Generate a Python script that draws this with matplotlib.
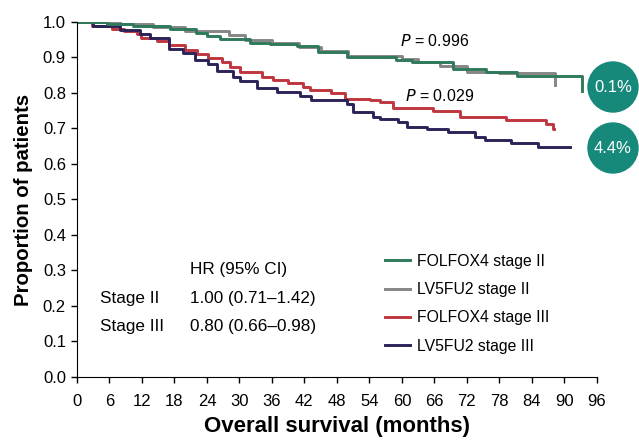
import numpy as np
import matplotlib.pyplot as plt
from matplotlib.patches import Ellipse

plt.rcParams['font.family'] = ['Liberation Sans', 'DejaVu Sans']

# Kaplan-Meier step curves (months, proportion)
folfox_ii_t = [0, 5.5, 10.4, 17.2, 22, 24, 26.4, 32, 35.6, 40.6, 44.5, 49.8, 59, 61.8, 69.4, 75.6, 81.2, 93.2]
folfox_ii_s = [1.0, 0.994, 0.989, 0.979, 0.970, 0.961, 0.953, 0.942, 0.937, 0.931, 0.916, 0.902, 0.893, 0.886, 0.867, 0.858, 0.848, 0.806]

lv5fu2_ii_t = [0, 8, 14, 20, 28, 31, 36, 41, 45, 50, 60, 63, 67, 72, 78, 88.3]
lv5fu2_ii_s = [1.0, 0.995, 0.985, 0.976, 0.962, 0.950, 0.940, 0.930, 0.917, 0.903, 0.895, 0.886, 0.875, 0.860, 0.855, 0.822]

folfox_iii_t = [0, 2.7, 6.4, 8.6, 11, 11.9, 14.7, 16.9, 19.9, 22.1, 24.2, 26.7, 28.2, 30.1, 34.1, 36.2, 39,
                41.8, 43, 47, 49.5, 54.1, 56, 58.4, 65.7, 70.7, 79.3, 86.7, 87.9, 88]
folfox_iii_s = [1.0, 0.989, 0.981, 0.975, 0.965, 0.956, 0.947, 0.934, 0.920, 0.909, 0.898, 0.886, 0.872, 0.860,
                0.844, 0.837, 0.828, 0.817, 0.809, 0.801, 0.783, 0.779, 0.775, 0.759, 0.750, 0.731, 0.725, 0.713,
                0.699, 0.699]

lv5fu2_iii_t = [0, 3, 8, 11.6, 13.5, 16.9, 19.6, 21.8, 24.2, 25.8, 28.9, 30.1, 33.2, 36.9, 41.2, 43.3, 49.8, 51,
                54.7, 56, 59.3, 60.9, 64.6, 68.6, 73.5, 75.3, 80.2, 85.1, 91]
lv5fu2_iii_s = [1.0, 0.99, 0.977, 0.965, 0.956, 0.924, 0.914, 0.893, 0.881, 0.862, 0.844, 0.834, 0.814, 0.804,
                0.792, 0.781, 0.769, 0.747, 0.731, 0.727, 0.717, 0.705, 0.698, 0.689, 0.677, 0.668, 0.658, 0.647,
                0.647]

labels = ['FOLFOX4 stage II', 'LV5FU2 stage II', 'FOLFOX4 stage III', 'LV5FU2 stage III']
colors = ['#2f7a5a', '#858585', '#c0363e', '#2b2258']

fig = plt.figure(figsize=(6.39, 4.40), dpi=100)
ax = fig.add_axes([0.1205, 0.1432, 0.8135, 0.8068])

curves = [(folfox_ii_t, folfox_ii_s), (lv5fu2_ii_t, lv5fu2_ii_s),
          (folfox_iii_t, folfox_iii_s), (lv5fu2_iii_t, lv5fu2_iii_s)]
order = [2, 3, 1, 0]
lines = {}
for i in order:
    t, s = curves[i]
    lines[i], = ax.step(t, s, where='post', color=colors[i], lw=2.1, label=labels[i])

ax.set_xlim(0, 96)
ax.set_ylim(0, 1.0)
ax.set_xticks(np.arange(0, 97, 6))
ax.set_yticks(np.arange(0, 1.01, 0.1))
ax.set_yticklabels([f'{v:.1f}' for v in np.arange(0, 1.01, 0.1)])
ax.tick_params(labelsize=12, length=4, width=1)
ax.tick_params(axis='x', pad=8)
ax.tick_params(axis='y', pad=4)
for sp in ['top', 'right']:
    ax.spines[sp].set_visible(False)
ax.set_xlabel('Overall survival (months)', fontsize=16, fontweight='bold', labelpad=5)
ax.set_ylabel('Proportion of patients', fontsize=14.7, fontweight='bold', labelpad=7)

ax.text(59.6, 0.947, '$P$ = 0.996', fontsize=11.5, va='center')
ax.text(60.6, 0.792, '$P$ = 0.029', fontsize=11.5, va='center')

ax.text(20.8, 0.303, 'HR (95% CI)', fontsize=12.3, va='center')
ax.text(4.3, 0.222, 'Stage II', fontsize=12.3, va='center')
ax.text(20.8, 0.222, '1.00 (0.71\u20131.42)', fontsize=12.3, va='center')
ax.text(4.3, 0.143, 'Stage III', fontsize=12.3, va='center')
ax.text(20.8, 0.143, '0.80 (0.66\u20130.98)', fontsize=12.3, va='center')

ax.legend([lines[i] for i in range(4)], labels, loc='upper left', bbox_to_anchor=(0.592, 0.347),
          frameon=False, fontsize=11.3, handlelength=1.6, labelspacing=0.85, handletextpad=0.45,
          borderpad=0, borderaxespad=0)

# teal circles at the right edge
for cy, txt in [(87, '0.1%'), (148, '4.4%')]:
    fy = 1 - cy / 440
    circ = Ellipse((613 / 639, fy), 50 / 639, 50 / 440, transform=fig.transFigure,
                   color='#16897a', clip_on=False)
    fig.patches.append(circ)
    fig.text(613 / 639, fy, txt, color='white', fontsize=12, ha='center', va='center')

fig.savefig('out.png', dpi=100)
